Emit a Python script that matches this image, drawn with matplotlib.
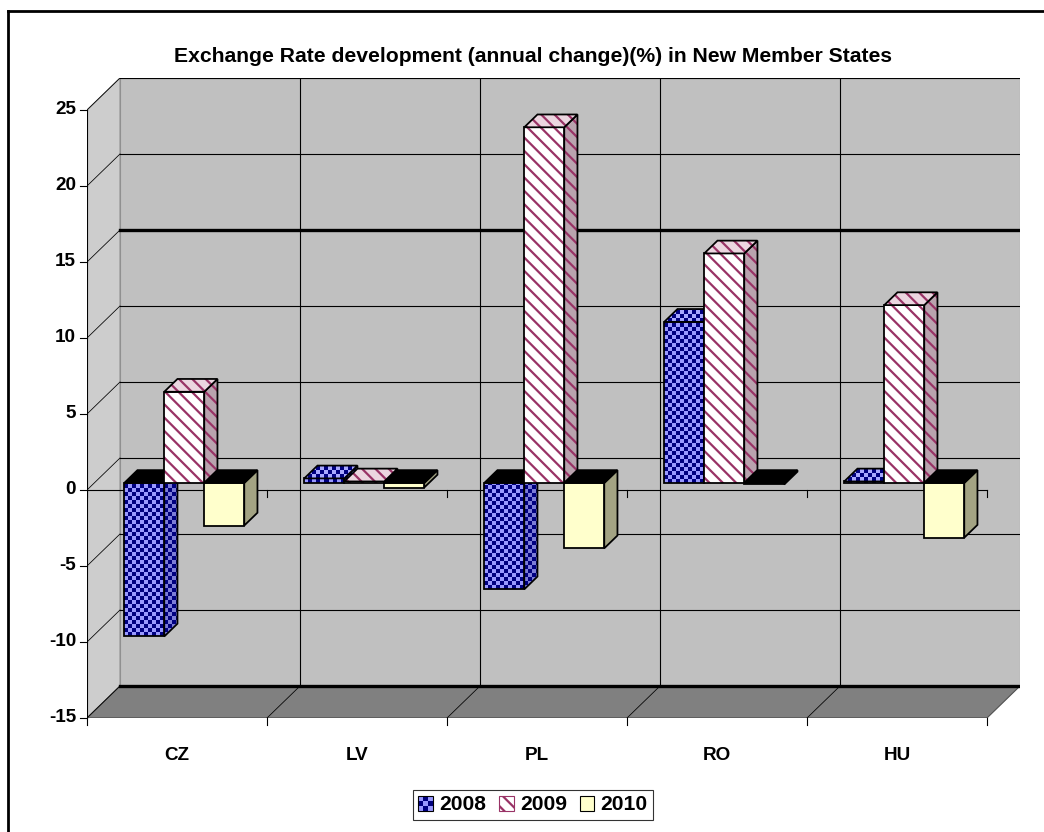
import numpy as np
import matplotlib.pyplot as plt
from matplotlib.patches import Polygon, Rectangle, Patch
from matplotlib.lines import Line2D
from matplotlib.colors import to_rgb
from matplotlib.legend_handler import HandlerBase

# data
categories = ['CZ', 'LV', 'PL', 'RO', 'HU']
years = ['2008', '2009', '2010']
rate_2008 = [-10.1, 0.3, -7.0, 10.6, 0.1]
rate_2009 = [6.0, 0.1, 23.4, 15.1, 11.7]
rate_2010 = [-2.8, -0.3, -4.3, -0.1, -3.6]
y_ticks = [-15, -10, -5, 0, 5, 10, 15, 20, 25]

plt.rcParams['font.family'] = ['Liberation Sans Narrow', 'Liberation Sans', 'DejaVu Sans']
plt.rcParams['font.weight'] = 'bold'
plt.rcParams['hatch.linewidth'] = 2.0

W, H = 1044, 832
fig = plt.figure(figsize=(W / 80, H / 80), dpi=80)
ax = fig.add_axes([87 / W, (H - 718) / H, 933 / W, 640 / H])
ax.axis('off')

ncat = len(categories)
ymin, ymax = y_ticks[0], y_ticks[-1]
ppx = 180.0   # pixels per category
ppy = 15.2    # pixels per unit
DX = 33 / ppx  # depth offset of the back wall
DY = 32 / ppy

# walls and floor
ax.add_patch(Polygon([(DX, ymin + DY), (ncat + DX, ymin + DY), (ncat + DX, ymax + DY), (DX, ymax + DY)],
                     fc='#c0c0c0', ec='#909090', lw=1, zorder=0))
ax.add_patch(Polygon([(0, ymin), (DX, ymin + DY), (DX, ymax + DY), (0, ymax)],
                     fc='#cdcdcd', ec='#909090', lw=1, zorder=0))
ax.add_patch(Polygon([(0, ymin), (ncat, ymin), (ncat + DX, ymin + DY), (DX, ymin + DY)],
                     fc='#808080', ec='#505050', lw=1, zorder=0))

for t in y_ticks:
    lw = 3 if abs(t) == 15 else 1
    ax.plot([DX, ncat + DX], [t + DY, t + DY], color='black', lw=lw, zorder=1)
    ax.plot([0, DX], [t, t + DY], color='black', lw=0.7, zorder=1)
    ax.plot([-7 / ppx, 0], [t, t], color='black', lw=1, zorder=1, clip_on=False)
    ax.text(-11 / ppx, t, str(t), ha='right', va='center', fontsize=17)

for k in range(1, ncat):
    ax.plot([k + DX, k + DX], [ymin + DY, ymax + DY], color='black', lw=1, zorder=1)
    ax.plot([k, k + DX], [ymin, ymin + DY], color='black', lw=0.7, zorder=1)

# value axis, category axis at zero and at the floor
ax.plot([0, 0], [ymin, ymax], color='black', lw=1, zorder=1)
ax.plot([0, ncat], [0, 0], color='black', lw=1, zorder=1)
ax.plot([0, ncat], [ymin, ymin], color='black', lw=1, zorder=1)
for k in range(ncat + 1):
    ax.plot([k, k], [0, -7 / ppy], color='black', lw=1, zorder=1)
    ax.plot([k, k], [ymin, ymin - 7 / ppy], color='black', lw=1, zorder=1, clip_on=False)
for i, c in enumerate(categories):
    ax.text(i + 0.5, ymin - 38 / ppy, c, ha='center', va='center', fontsize=17)

# bar styles: (kind, front, side, top, pattern colour)
styles = [
    ('checker', '#9999ff', '#7c7cd8', '#a8a8ff', '#000080'),
    ('stripe', '#ffffff', '#b9a3ae', '#ecd6e0', '#993366'),
    ('plain', '#ffffcc', '#a3a383', '#ffffcc', None),
]
cell_x, cell_y = 4 / ppx, 4 / ppy


def checker(poly, c1, c2, z):
    pts = np.array(poly)
    x0, y0 = pts.min(axis=0)
    x1, y1 = pts.max(axis=0)
    nx = max(1, int(np.ceil((x1 - x0) / cell_x)))
    ny = max(1, int(np.ceil((y1 - y0) / cell_y)))
    jj, ii = np.indices((ny, nx))
    mask = (ii + jj) % 2 == 0
    img = np.where(mask[..., None], np.array(to_rgb(c1)), np.array(to_rgb(c2)))
    im = ax.imshow(img, extent=[x0, x0 + nx * cell_x, y0, y0 + ny * cell_y], origin='lower',
                   interpolation='nearest', aspect='auto', zorder=z)
    clip = Polygon(poly, fc='none', ec='none', transform=ax.transData)
    ax.add_patch(clip)
    im.set_clip_path(clip)


def face(poly, kind, color, pcol, z):
    if kind == 'checker':
        checker(poly, color, pcol, z)
    elif kind == 'stripe':
        ax.add_patch(Polygon(poly, fc=color, ec=pcol, hatch='\\\\', lw=0, zorder=z))
    else:
        ax.add_patch(Polygon(poly, fc=color, ec='none', zorder=z))
    ax.add_patch(Polygon(poly, fc='none', ec='black', lw=1.6, zorder=z + 0.5))


f, b = 0.22, 0.62
bw = 40 / ppx
gap = 30 / ppx
dx, dy = (b - f) * DX, (b - f) * DY
z = 3
for j, vals in enumerate([rate_2008, rate_2009, rate_2010]):
    kind, fc, sc, tc, pc = styles[j]
    for i, v in enumerate(vals):
        x0 = i + gap + j * bw + f * DX
        y0 = f * DY
        lo, hi = y0 + min(v, 0), y0 + max(v, 0)
        front = [(x0, lo), (x0 + bw, lo), (x0 + bw, hi), (x0, hi)]
        side = [(x0 + bw, lo), (x0 + bw + dx, lo + dy), (x0 + bw + dx, hi + dy), (x0 + bw, hi)]
        top = [(x0, hi), (x0 + bw, hi), (x0 + bw + dx, hi + dy), (x0 + dx, hi + dy)]
        face(side, kind, sc, pc, z)
        face(front, kind, fc, pc, z + 1)
        if v < 0:
            face(top, 'plain', 'black', None, z + 2)
        else:
            face(top, kind, tc, pc, z + 2)
        z += 3

ax.set_xlim(0, ncat + DX)
ax.set_ylim(ymin, ymax + DY)

fig.text(533 / W, 1 - 57 / H, 'Exchange Rate development (annual change)(%) in New Member States',
         ha='center', va='center', fontsize=19)


# legend
class CheckerHandler(HandlerBase):
    def create_artists(self, legend, orig, xd, yd, width, height, fontsize, trans):
        arts = []
        n = 3
        for a in range(n):
            for c in range(n):
                col = '#9999ff' if (a + c) % 2 == 0 else '#000080'
                arts.append(Rectangle((xd + c * width / n, yd + a * height / n), width / n, height / n,
                                      fc=col, ec='none', transform=trans))
        arts.append(Rectangle((xd, yd), width, height, fc='none', ec='black', lw=1, transform=trans))
        return arts


h2008 = Patch(fc='#9999ff')
h2009 = Patch(fc='white', ec='#993366', hatch='\\\\', lw=1)
h2010 = Patch(fc='#ffffcc', ec='black', lw=1)
leg = fig.legend([h2008, h2009, h2010], years, loc='center', bbox_to_anchor=(533 / W, 1 - 805 / H),
                 ncol=3, fontsize=19, frameon=True, fancybox=False, edgecolor='black',
                 handlelength=0.7, handleheight=0.7, handletextpad=0.3, columnspacing=0.6,
                 borderpad=0.25, handler_map={h2008: CheckerHandler()})
leg.get_frame().set_linewidth(1)

# outer chart border
fig.add_artist(Line2D([8 / W, 1], [1 - 11 / H, 1 - 11 / H], color='black', lw=2.5))
fig.add_artist(Line2D([8 / W, 8 / W], [0, 1 - 11 / H], color='black', lw=2.5))

fig.savefig('out.png', dpi=80)
